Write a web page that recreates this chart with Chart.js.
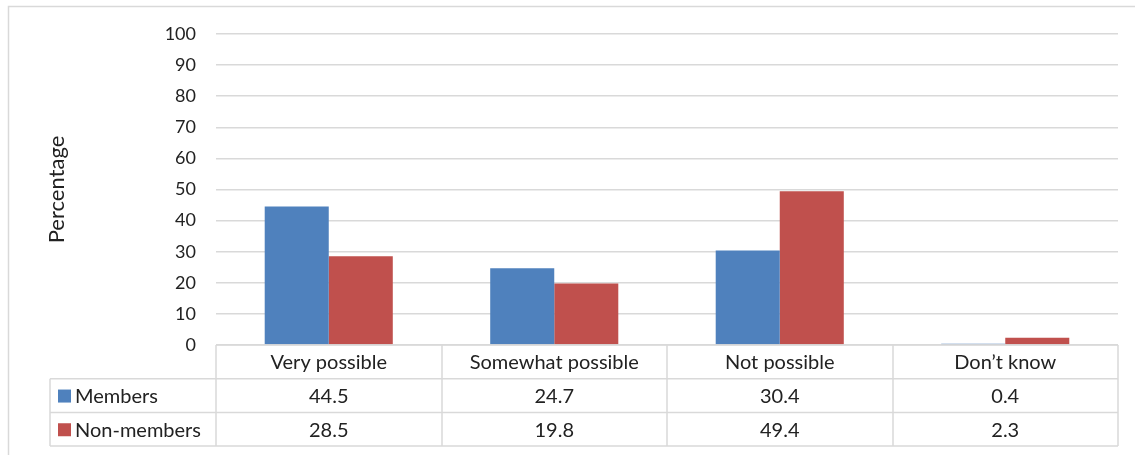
<!DOCTYPE html>
<html>
<head>
<meta charset="utf-8">
<script src="https://cdn.jsdelivr.net/npm/chart.js@4/dist/chart.umd.min.js"></script>
<style>
html,body{margin:0;padding:0;background:#fff;}
#wrap{position:relative;width:1135px;height:455px;}
canvas{display:block;}
</style>
</head>
<body>
<div id="wrap"><canvas id="c" width="1135" height="455"></canvas></div>
<script>
const categories = ["Very possible", "Somewhat possible", "Not possible", "Don\u2019t know"];
const seriesNames = ["Members", "Non-members"];
const members = [44.5, 24.7, 30.4, 0.4];
const nonMembers = [28.5, 19.8, 49.4, 2.3];
const membersLabels = ["44.5", "24.7", "30.4", "0.4"];
const nonMembersLabels = ["28.5", "19.8", "49.4", "2.3"];
const yTicks = [0, 10, 20, 30, 40, 50, 60, 70, 80, 90, 100];
const yTitle = "Percentage";

const FONT = "Lato, 'Open Sans', sans-serif";
const TXT = "#222222";
const LINE = "#d9d9d9";
const colors = ["#4F81BD", "#C0504D"];

const tablePlugin = {
  id: "tablePlugin",
  beforeDraw(chart) {
    const ctx = chart.ctx;
    ctx.save();
    ctx.fillStyle = "#fff";
    ctx.fillRect(0, 0, chart.width, chart.height);
    ctx.strokeStyle = "#d9d9d9";
    ctx.lineWidth = 1.5;
    ctx.strokeRect(8.5, 6.5, chart.width + 20, chart.height + 20);
    ctx.restore();
  },
  afterDraw(chart) {
    const ctx = chart.ctx;
    const xs = chart.scales.x;
    const area = chart.chartArea;
    const n = categories.length;
    const cw = (area.right - area.left) / n;
    const top = area.bottom;
    const rowH = 33.7;
    const y1 = top + rowH, y2 = top + 2 * rowH, y3 = top + 3 * rowH;
    const leftX = 50;
    ctx.save();
    ctx.strokeStyle = LINE;
    ctx.lineWidth = 1.5;
    ctx.beginPath();
    ctx.moveTo(area.left, top); ctx.lineTo(area.right, top);
    [y1, y2, y3].forEach(y => { ctx.moveTo(leftX, y); ctx.lineTo(area.right, y); });
    for (let i = 0; i <= n; i++) {
      const x = Math.round(area.left + i * cw);
      ctx.moveTo(x, top); ctx.lineTo(x, y3);
    }
    ctx.moveTo(leftX, y1); ctx.lineTo(leftX, y3);
    ctx.stroke();

    ctx.font = "20px " + FONT;
    ctx.fillStyle = TXT;
    ctx.textAlign = "center";
    ctx.textBaseline = "middle";
    categories.forEach((c, i) => {
      const cx = xs.getPixelForValue(i);
      ctx.fillText(c, cx, top + rowH / 2 + 1);
      ctx.fillText(membersLabels[i], cx, y1 + rowH / 2 + 1);
      ctx.fillText(nonMembersLabels[i], cx, y2 + rowH / 2 + 1);
    });
    const rows = [y1, y2];
    seriesNames.forEach((s, k) => {
      const cy = rows[k] + rowH / 2;
      ctx.fillStyle = colors[k];
      ctx.fillRect(58, cy - 6, 13, 13);
      ctx.fillStyle = TXT;
      ctx.textAlign = "left";
      ctx.fillText(s, 75, cy + 1);
    });
    ctx.restore();
  }
};

new Chart(document.getElementById("c"), {
  type: "bar",
  data: {
    labels: categories,
    datasets: [
      { label: seriesNames[0], data: members, backgroundColor: colors[0], borderWidth: 0 },
      { label: seriesNames[1], data: nonMembers, backgroundColor: colors[1], borderWidth: 0 }
    ]
  },
  options: {
    responsive: false,
    devicePixelRatio: 1,
    animation: false,
    layout: { padding: { top: 34, right: 17, bottom: 110, left: 0 } },
    datasets: { bar: { categoryPercentage: 0.568, barPercentage: 1.0 } },
    plugins: { legend: { display: false }, tooltip: { enabled: false } },
    scales: {
      x: { display: false },
      y: {
        min: 0, max: 100,
        afterBuildTicks(scale) { scale.ticks = yTicks.map(v => ({ value: v })); },
        afterFit(scale) { scale.width = 216; },
        grid: { color: LINE, lineWidth: 1.5, drawTicks: false },
        border: { display: false },
        ticks: { color: TXT, font: { family: FONT, size: 18 }, padding: 20 },
        title: { display: true, text: yTitle, color: TXT, font: { family: FONT, size: 22 }, padding: { top: 44, bottom: 0 } }
      }
    }
  },
  plugins: [tablePlugin]
});
</script>
</body>
</html>
